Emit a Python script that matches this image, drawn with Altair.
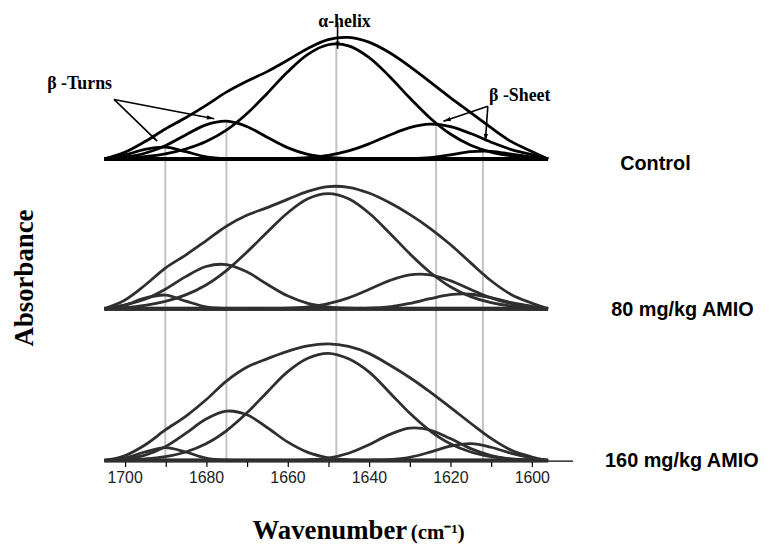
import altair as alt
import pandas as pd

# ---------------- data ----------------
wavenumber = [1705, 1700, 1695, 1690, 1685, 1680, 1675, 1670, 1665, 1660, 1655,
              1650, 1645, 1640, 1635, 1630, 1625, 1620, 1615, 1610, 1605, 1600, 1596]

# Control
ctrl_envelope = [0, 6.6, 17.5, 30.1, 41.5, 54.0, 67.3, 78.2, 88.0, 99.4, 111.4,
                 120.3, 122.5, 117.7, 107.3, 93.4, 77.7, 61.9, 46.7, 31.5, 17.4, 7.5, 0]
ctrl_alpha = [0, 0.8, 2.2, 5.0, 10.0, 17.5, 29.0, 45.5, 66.0, 87.6, 105.4,
              115.1, 114.0, 102.4, 83.4, 61.6, 41.3, 25.1, 13.8, 6.9, 3.1, 1.3, 0]
ctrl_turn1 = [0, 3.9, 9.6, 11.8, 7.3, 2.2, 0.3, 0, 0, 0, 0,
              0, 0, 0, 0, 0, 0, 0, 0, 0, 0, 0, 0]
ctrl_turn2 = [0, 1.9, 5.7, 13.3, 24.2, 34.3, 38.0, 32.7, 21.9, 11.4, 4.6,
              1.5, 0.4, 0.1, 0, 0, 0, 0, 0, 0, 0, 0, 0]
ctrl_sheet1 = [0, 0, 0, 0, 0, 0, 0, 0, 0.1, 0.4, 1.4,
               3.7, 8.1, 15.2, 23.9, 31.5, 35.0, 32.6, 25.6, 16.9, 9.4, 4.4, 0]
ctrl_sheet2 = [0, 0, 0, 0, 0, 0, 0, 0, 0, 0, 0,
               0, 0, 0, 0, 0.3, 1.4, 4.2, 7.3, 7.7, 4.9, 1.8, 0]

# 80 mg/kg AMIO
m80_envelope = [0, 8.6, 23.7, 41.0, 54.1, 68.5, 83.2, 94.2, 101.9, 110.2, 118.3,
                123.1, 122.4, 116.6, 107.0, 95.1, 81.1, 64.7, 46.2, 28.2, 14.2, 5.7, 0]
m80_alpha = [0, 1.2, 3.5, 7.5, 14.0, 24.0, 38.5, 57.0, 77.0, 96.5, 110.8,
             116.0, 110.8, 96.5, 76.7, 55.6, 36.8, 22.2, 12.2, 6.1, 2.8, 1.2, 0]
m80_turn1 = [0, 3.7, 10.7, 13.8, 7.7, 1.9, 0.2, 0, 0, 0, 0,
             0, 0, 0, 0, 0, 0, 0, 0, 0, 0, 0, 0]
m80_turn2 = [0, 3.7, 9.5, 19.7, 32.4, 42.6, 44.5, 37.2, 24.7, 13.1, 5.5,
             1.9, 0.5, 0.1, 0, 0, 0, 0, 0, 0, 0, 0, 0]
m80_sheet1 = [0, 0, 0, 0, 0, 0, 0, 0, 0.2, 0.6, 2.0,
              5.2, 11.0, 19.4, 28.3, 34.2, 34.2, 28.3, 19.4, 11.0, 5.2, 2.0, 0]
m80_sheet2 = [0, 0, 0, 0, 0, 0, 0, 0, 0, 0, 0,
              0, 0.1, 0.6, 2.0, 5.3, 10.1, 14.2, 14.6, 11.1, 6.2, 2.5, 0]

# 160 mg/kg AMIO
m160_envelope = [0, 4.8, 15.7, 30.8, 44.5, 61.2, 80.1, 94.0, 102.5, 110.0, 115.5,
                 117.5, 115.0, 108.0, 96.5, 83.7, 69.2, 53.5, 37.6, 22.3, 10.3, 3.6, 0]
m160_alpha = [0, 0.6, 1.6, 3.9, 8.6, 16.9, 30.0, 47.8, 68.9, 89.3, 103.0,
              108.0, 102.5, 89.3, 68.9, 47.8, 30.0, 16.9, 8.6, 3.9, 1.6, 0.6, 0]
m160_turn1 = [0, 2.5, 8.6, 13.0, 8.6, 2.5, 0.3, 0, 0, 0, 0,
              0, 0, 0, 0, 0, 0, 0, 0, 0, 0, 0, 0]
m160_turn2 = [0, 1.7, 5.5, 13.9, 27.3, 41.8, 49.8, 46.2, 33.3, 18.8, 8.2,
              2.8, 0.7, 0.2, 0, 0, 0, 0, 0, 0, 0, 0, 0]
m160_sheet1 = [0, 0, 0, 0, 0, 0, 0, 0, 0, 0.1, 0.7,
               2.5, 7.3, 15.9, 26.1, 32.6, 30.8, 22.1, 12.0, 5.0, 1.5, 0.4, 0]
m160_sheet2 = [0, 0, 0, 0, 0, 0, 0, 0, 0, 0, 0,
               0, 0, 0.2, 0.9, 3.3, 8.4, 14.5, 17.0, 13.4, 7.2, 2.6, 0]

panels = ["Control", "80 mg/kg AMIO", "160 mg/kg AMIO"]
curves = {
    "Control": [ctrl_envelope, ctrl_alpha, ctrl_turn1, ctrl_turn2, ctrl_sheet1, ctrl_sheet2],
    "80 mg/kg AMIO": [m80_envelope, m80_alpha, m80_turn1, m80_turn2, m80_sheet1, m80_sheet2],
    "160 mg/kg AMIO": [m160_envelope, m160_alpha, m160_turn1, m160_turn2, m160_sheet1, m160_sheet2],
}
curve_names = ["envelope", "alpha", "turn1", "turn2", "sheet1", "sheet2"]

# band positions (marker lines)
marker_wn = [1690, 1675, 1648, 1623.5, 1612]
marker_top = [317, 341, 417, 338, 315]

tick_values = [1700, 1690, 1680, 1670, 1660, 1650, 1640, 1630, 1620, 1610, 1600]

# ---------------- layout (kept apart from data) ----------------
panel_offset = {"Control": 304, "80 mg/kg AMIO": 153, "160 mg/kg AMIO": 0}
panel_color = {"Control": "#000000", "80 mg/kg AMIO": "#2f2f2f", "160 mg/kg AMIO": "#2f2f2f"}

rows = []
for p in panels:
    for name, vals in zip(curve_names, curves[p]):
        for w, v in zip(wavenumber, vals):
            rows.append({"panel": p, "curve": p + "|" + name, "wn": w,
                         "y": panel_offset[p] + v})
df = pd.DataFrame(rows)

base_df = pd.DataFrame({"panel": panels,
                        "x1": [wavenumber[0]] * 3,
                        "x2": [wavenumber[-1]] * 3,
                        "y": [panel_offset[p] for p in panels]})

marker_df = pd.DataFrame({"wn": marker_wn, "top": marker_top, "bottom": [0] * len(marker_wn)})

arrow_df = pd.DataFrame({
    "x": [1702.6, 1702.6, 1610.8, 1610.8, 1647.7],
    "y": [364, 364, 357, 357, 442],
    "x2": [1678.0, 1692.0, 1621.7, 1611.4, 1647.7],
    "y2": [344.5, 322, 342, 322, 415],
    "angle": [100.8, 133.9, 251.6, 184.4, 180],
})

x_scale = alt.Scale(domain=[1705, 1590], nice=False, zero=False)
y_scale = alt.Scale(domain=[0, 454], nice=False, zero=False)
x_axis = alt.Axis(values=tick_values,
                  labelExpr="datum.value % 20 === 0 ? '' + datum.value : ''",
                  title=None, grid=False, domainColor="#000", domainWidth=1.2,
                  tickColor="#000", tickWidth=1.2, tickSize=6,
                  labelFont="Liberation Sans", labelFontSize=16, labelColor="#222",
                  labelPadding=3, labelFlush=False, labelOverlap=False)


def X(f):
    return alt.X(f, type="quantitative", scale=x_scale, axis=x_axis)


def Y(f):
    return alt.Y(f, type="quantitative", scale=y_scale, axis=None)


markers = alt.Chart(marker_df).mark_rule(color="#c3c3c3", strokeWidth=2).encode(
    x=X("wn"), y=Y("top"), y2="bottom")

baselines = alt.Chart(base_df).mark_rule(color="#000", strokeWidth=4).encode(
    x=X("x1"), x2="x2", y=Y("y"))

lines = alt.Chart(df).mark_line(interpolate="catmull-rom", strokeWidth=2.8).encode(
    x=X("wn"), y=Y("y"), detail="curve:N",
    color=alt.Color("panel:N", legend=None,
                    scale=alt.Scale(domain=panels, range=[panel_color[p] for p in panels])))

arrows = alt.Chart(arrow_df).mark_rule(color="#000", strokeWidth=1.6).encode(
    x=X("x"), y=Y("y"), x2="x2", y2="y2")

heads = alt.Chart(arrow_df).mark_point(
    shape="M0,0L0.6,2.1L-0.6,2.1Z", filled=True, size=49, color="#000", opacity=1
).encode(x=X("x2"), y=Y("y2"), angle=alt.Angle("angle:Q", scale=None))

# annotations
ann_center = pd.DataFrame({"t": ["α-helix"], "x": [1646.0], "y": [442]})
ann_left = pd.DataFrame({"t": ["β -Turns", "β -Sheet"], "x": [1719.0, 1610.5], "y": [379, 367]})
right_labels = pd.DataFrame({"t": panels, "x": [1578.3, 1580.5, 1582.0], "y": [299, 152, -1]})
ytitle = pd.DataFrame({"t": ["Absorbance"], "x": [1724.5], "y": [184]})
xtitle_a = pd.DataFrame({"t": ["Wavenumber"], "x": [1630.6], "y": [-79]})
xtitle_b = pd.DataFrame({"t": ["(cm⁻¹)"], "x": [1629.7], "y": [-79]})

serif = "Liberation Serif"
sans = "Liberation Sans"

t1 = alt.Chart(ann_center).mark_text(font=serif, fontWeight="bold", fontSize=18,
                                     align="center", baseline="middle", color="#000").encode(
    x=X("x"), y=Y("y"), text="t:N")
t2 = alt.Chart(ann_left).mark_text(font=serif, fontWeight="bold", fontSize=18,
                                   align="left", baseline="middle", color="#000").encode(
    x=X("x"), y=Y("y"), text="t:N")
t3 = alt.Chart(right_labels).mark_text(font=sans, fontWeight="bold", fontSize=20,
                                       align="left", baseline="middle", color="#000").encode(
    x=X("x"), y=Y("y"), text="t:N")
t4 = alt.Chart(ytitle).mark_text(font=serif, fontWeight="bold", fontSize=27, angle=270,
                                 align="center", baseline="middle", color="#000").encode(
    x=X("x"), y=Y("y"), text="t:N")
t5 = alt.Chart(xtitle_a).mark_text(font=serif, fontWeight="bold", fontSize=27,
                                   align="right", baseline="alphabetic", color="#000").encode(
    x=X("x"), y=Y("y"), text="t:N")
t6 = alt.Chart(xtitle_b).mark_text(font=serif, fontWeight="bold", fontSize=21,
                                   align="left", baseline="alphabetic", color="#000").encode(
    x=X("x"), y=Y("y"), text="t:N")

chart = alt.layer(markers, baselines, lines, arrows, heads, t1, t2, t3, t4, t5, t6).properties(
    width=472, height=454,
    padding={"left": 97, "top": 0, "right": 192, "bottom": 83},
    autosize=alt.AutoSizeParams(type="none"),
).configure_view(stroke=None)

chart.save("out.html", embed_options={"renderer": "svg", "actions": False})
